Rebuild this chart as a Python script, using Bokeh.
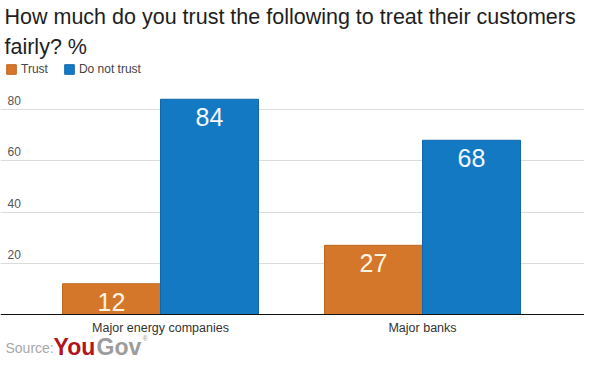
from bokeh.plotting import figure
from bokeh.models import (ColumnDataSource, Range1d, FixedTicker, Grid, Legend,
                          LegendItem, Label, Span)
from bokeh.transform import dodge
from bokeh.core.properties import value
from bokeh.embed import file_html
from bokeh.resources import INLINE

# ---- data ----
title_lines = ["How much do you trust the following to treat their customers",
               "fairly? %"]
categories = ["Major energy companies", "Major banks"]
series_names = ["Trust", "Do not trust"]
trust = [12, 27]
not_trust = [84, 68]
y_ticks = [20, 40, 60, 80]
colors = ["#d5772a", "#1479c3"]
edge_colors = ["#c0681f", "#0f68ad"]
label_colors = ["#fdf4e2", "#f2f8ff"]

FONT = "Liberation Sans"
W, H = 584, 362
BASE_PX = 314          # pixel row of the zero line
PX_PER_UNIT = 205 / 80  # vertical scale
CAT0_PX, CAT_STEP = 160, 262
x_start = -CAT0_PX / CAT_STEP
x_end = (W - CAT0_PX) / CAT_STEP
y_start = -(H - BASE_PX) / PX_PER_UNIT
y_end = BASE_PX / PX_PER_UNIT
bar_w = 0.374

idx = list(range(len(categories)))
src = ColumnDataSource(dict(
    idx=idx, cat=categories, zero=[0] * len(categories),
    trust=trust, not_trust=not_trust,
    trust_lbl=[str(v) for v in trust], not_lbl=[str(v) for v in not_trust]))

p = figure(width=W, height=H, output_backend="svg", toolbar_location=None,
           x_range=Range1d(x_start, x_end), y_range=Range1d(y_start, y_end),
           x_axis_location=None, y_axis_location=None,
           min_border=0, outline_line_color=None, title=None)
p.background_fill_color = "white"
p.border_fill_color = "white"

# grid
p.center = [r for r in p.center if not isinstance(r, Grid)]
p.add_layout(Grid(dimension=1, ticker=FixedTicker(ticks=y_ticks),
                  grid_line_color="#dcdcdc", grid_line_width=1))

# bars
r1 = p.vbar(x=dodge("idx", -bar_w / 2), top="trust", width=bar_w, source=src,
            fill_color=colors[0], line_color=edge_colors[0], line_width=1)
r2 = p.vbar(x=dodge("idx", bar_w / 2), top="not_trust", width=bar_w, source=src,
            fill_color=colors[1], line_color=edge_colors[1], line_width=1)

# baseline
p.add_layout(Span(location=0, dimension="width", line_color="#111111",
                  line_width=1))

# category labels
p.text(x="idx", y="zero", text="cat", source=src, text_align="center",
       text_baseline="middle", y_offset=13, text_font=value(FONT),
       text_font_size="12.5px", text_color="#333333")

# value labels
p.text(x=dodge("idx", -bar_w / 2), y="trust", text="trust_lbl", source=src,
       text_align="center", text_baseline="middle", y_offset=18,
       text_font=value(FONT), text_font_size="25px", text_color=label_colors[0])
p.text(x=dodge("idx", bar_w / 2), y="not_trust", text="not_lbl", source=src,
       text_align="center", text_baseline="middle", y_offset=18,
       text_font=value(FONT), text_font_size="25px", text_color=label_colors[1])

# y tick labels (inside plot, above grid lines)
tick_src = ColumnDataSource(dict(x=[x_start] * len(y_ticks), y=y_ticks,
                                 lbl=[str(t) for t in y_ticks]))
p.text(x="x", y="y", text="lbl", source=tick_src, text_align="left",
       text_baseline="middle", y_offset=-9, x_offset=7,
       text_font=value(FONT), text_font_size="12px", text_color="#555555")

# legend
legend = Legend(items=[LegendItem(label=series_names[0], renderers=[r1]),
                       LegendItem(label=series_names[1], renderers=[r2])],
                location=(5, H - 76), orientation="horizontal",
                glyph_width=12, glyph_height=12, label_height=12,
                label_standoff=4, spacing=15, padding=0, margin=0,
                background_fill_alpha=0, border_line_color=None,
                label_text_font=FONT, label_text_font_size="12px",
                label_text_color="#444444")
p.add_layout(legend)

# titles
for i, (line, mid) in enumerate(zip(title_lines, [16, 46])):
    p.add_layout(Label(x=4, y=H - mid, x_units="screen", y_units="screen",
                       text=line, text_baseline="middle", text_align="left",
                       text_font=FONT, text_font_size="21.5px",
                       text_color="#1e1e1e"))

# source
SRC_MID = 346
p.add_layout(Label(x=5, y=H - SRC_MID - 1, x_units="screen", y_units="screen",
                   text="Source:", text_baseline="middle", text_font=FONT,
                   text_font_size="14px", text_color="#a8a8a8"))
p.add_layout(Label(x=53, y=H - SRC_MID, x_units="screen", y_units="screen",
                   text="You", text_baseline="middle", text_font=FONT,
                   text_font_style="bold", text_font_size="23px",
                   text_color="#b3141c"))
p.add_layout(Label(x=96, y=H - SRC_MID, x_units="screen", y_units="screen",
                   text="Gov", text_baseline="middle", text_font=FONT,
                   text_font_style="bold", text_font_size="23px",
                   text_color="#9c9c9c"))
p.add_layout(Label(x=142, y=H - SRC_MID + 8, x_units="screen", y_units="screen",
                   text="®", text_baseline="middle", text_font=FONT,
                   text_font_size="7px", text_color="#9c9c9c"))

open("out.html", "w").write(file_html(p, INLINE))
